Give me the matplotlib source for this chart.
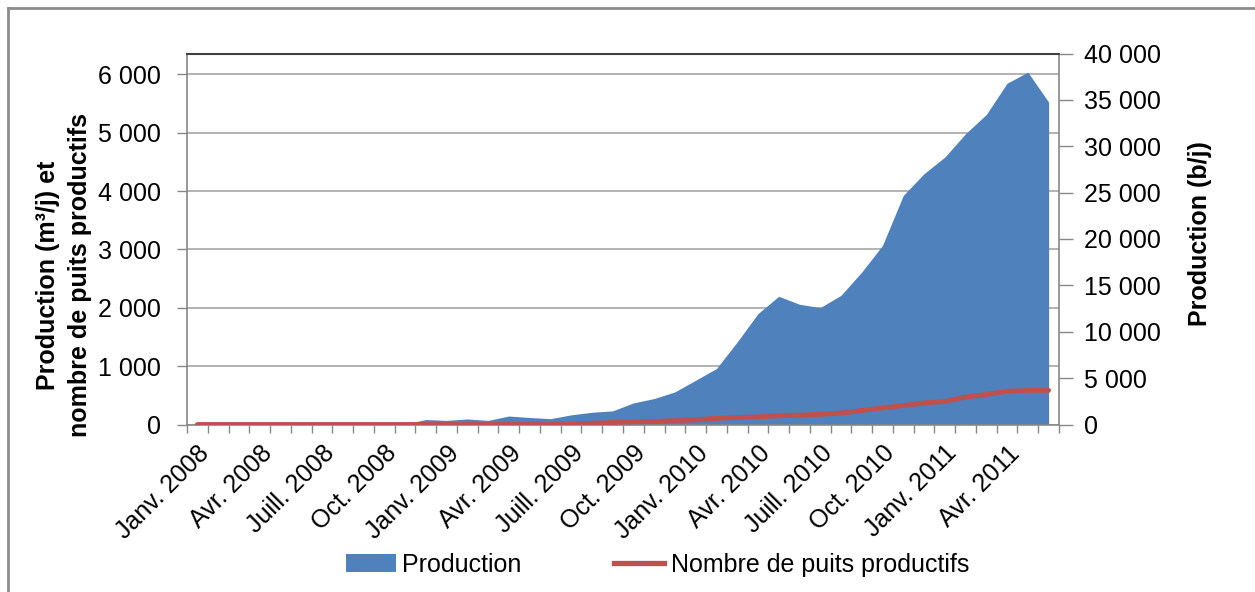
import matplotlib
matplotlib.use('Agg')
import matplotlib.pyplot as plt
from matplotlib.lines import Line2D
from matplotlib.patches import Patch
from matplotlib.ticker import FuncFormatter, MultipleLocator
import numpy as np

plt.rcParams['font.family'] = ['Liberation Sans', 'DejaVu Sans']

# monthly data, Janv. 2008 -> Juin 2011
months = ['Janv.', 'Févr.', 'Mars', 'Avr.', 'Mai', 'Juin',
          'Juill.', 'Août', 'Sept.', 'Oct.', 'Nov.', 'Déc.']
years = [2008, 2009, 2010, 2011]
month_labels = [m + ' ' + str(y) for y in years for m in months][:42]

# production in m3/j
production = [0, 0, 0, 0, 0, 0, 0, 0, 0, 0,
              10, 85, 70, 95, 70, 145, 120, 100, 165, 210,
              233, 370, 445, 559, 759, 959, 1415, 1901, 2198, 2061,
              2004, 2215, 2614, 3071, 3928, 4300, 4584, 4985, 5315, 5851,
              6040, 5526]

# number of productive wells
puits = [0, 0, 0, 0, 0, 0, 0, 0, 0, 0,
         0, 0, 0, 0, 0, 0, 0, 0, 10, 20,
         34, 45, 50, 68, 80, 105, 120, 130, 150, 160,
         175, 195, 240, 285, 325, 370, 395, 470, 515, 570,
         585, 585]

BBL_PER_M3 = 6.2898
blue = '#4F81BD'
red = '#C0504D'
grey = '#878787'
FS = 18


def fmt(v, pos):
    return '{:,.0f}'.format(v).replace(',', ' ')


def plot():
    fig = plt.figure(figsize=(12.55, 5.92), dpi=100)
    ax = fig.add_axes([187 / 1255, 1 - 424.5 / 592, 872 / 1255, 371 / 592])

    x = np.arange(len(production))
    ax.fill_between(x, 0, production, color=blue, lw=0, zorder=2)
    ax.plot(x, puits, color=red, lw=3.5, solid_capstyle='round', zorder=3)

    ax.set_xlim(-0.5, len(production) - 0.5)
    ax.set_ylim(0, 40000 / BBL_PER_M3)
    ax.yaxis.set_major_locator(MultipleLocator(1000))
    ax.yaxis.set_major_formatter(FuncFormatter(fmt))
    ax.grid(axis='y', color='#a6a6a6', lw=1.2, zorder=0)

    ax.set_xticks(x[::3])
    ax.set_xticklabels(month_labels[::3], rotation=45, ha='right',
                       rotation_mode='anchor', fontsize=FS)
    ax.set_xticks(np.arange(-0.5, len(production), 1), minor=True)
    ax.tick_params(axis='x', which='major', length=0, pad=12)
    ax.tick_params(axis='x', which='minor', length=6, color=grey, width=1)
    ax.tick_params(axis='y', length=7, color=grey, width=1, labelsize=FS, pad=12)

    for s in ['left', 'bottom', 'right']:
        ax.spines[s].set_color(grey)
        ax.spines[s].set_linewidth(1.2)
    ax.spines['top'].set_color('#404040')
    ax.spines['top'].set_linewidth(1.5)

    ax.set_ylabel('Production (m³/j) et\nnombre de puits productifs',
                  fontsize=FS, fontweight='bold', linespacing=1.4, va='center')
    ax.yaxis.set_label_coords(-0.141, 0.403)

    ax2 = ax.twinx()
    ax2.set_ylim(0, 40000)
    ax2.yaxis.set_major_locator(MultipleLocator(5000))
    ax2.yaxis.set_major_formatter(FuncFormatter(fmt))
    ax2.tick_params(axis='y', length=10, color=grey, width=1, labelsize=FS, pad=8)
    for s in ax2.spines.values():
        s.set_visible(False)
    ax2.set_ylabel('Production (b/j)', fontsize=FS, fontweight='bold', va='center')
    ax2.yaxis.set_label_coords(1.162, 0.515)

    handles = [Patch(facecolor=blue, edgecolor='none'),
               Line2D([0], [0], color=red, lw=3.8)]
    fig.legend(handles, ['Production', 'Nombre de puits productifs'],
               loc='center', bbox_to_anchor=(0.524, 0.046), ncol=2,
               frameon=False, fontsize=FS, handlelength=2.0,
               handletextpad=0.25, columnspacing=3.7)

    # outer chart frame
    fig.add_artist(Line2D([8 / 1255, 1], [1 - 8 / 592, 1 - 8 / 592],
                          transform=fig.transFigure, color='#8c8c8c', lw=2))
    fig.add_artist(Line2D([8 / 1255, 8 / 1255], [0, 1 - 8 / 592],
                          transform=fig.transFigure, color='#8c8c8c', lw=2))

    fig.savefig('out.png', dpi=100)


if __name__ == '__main__':
    plot()
